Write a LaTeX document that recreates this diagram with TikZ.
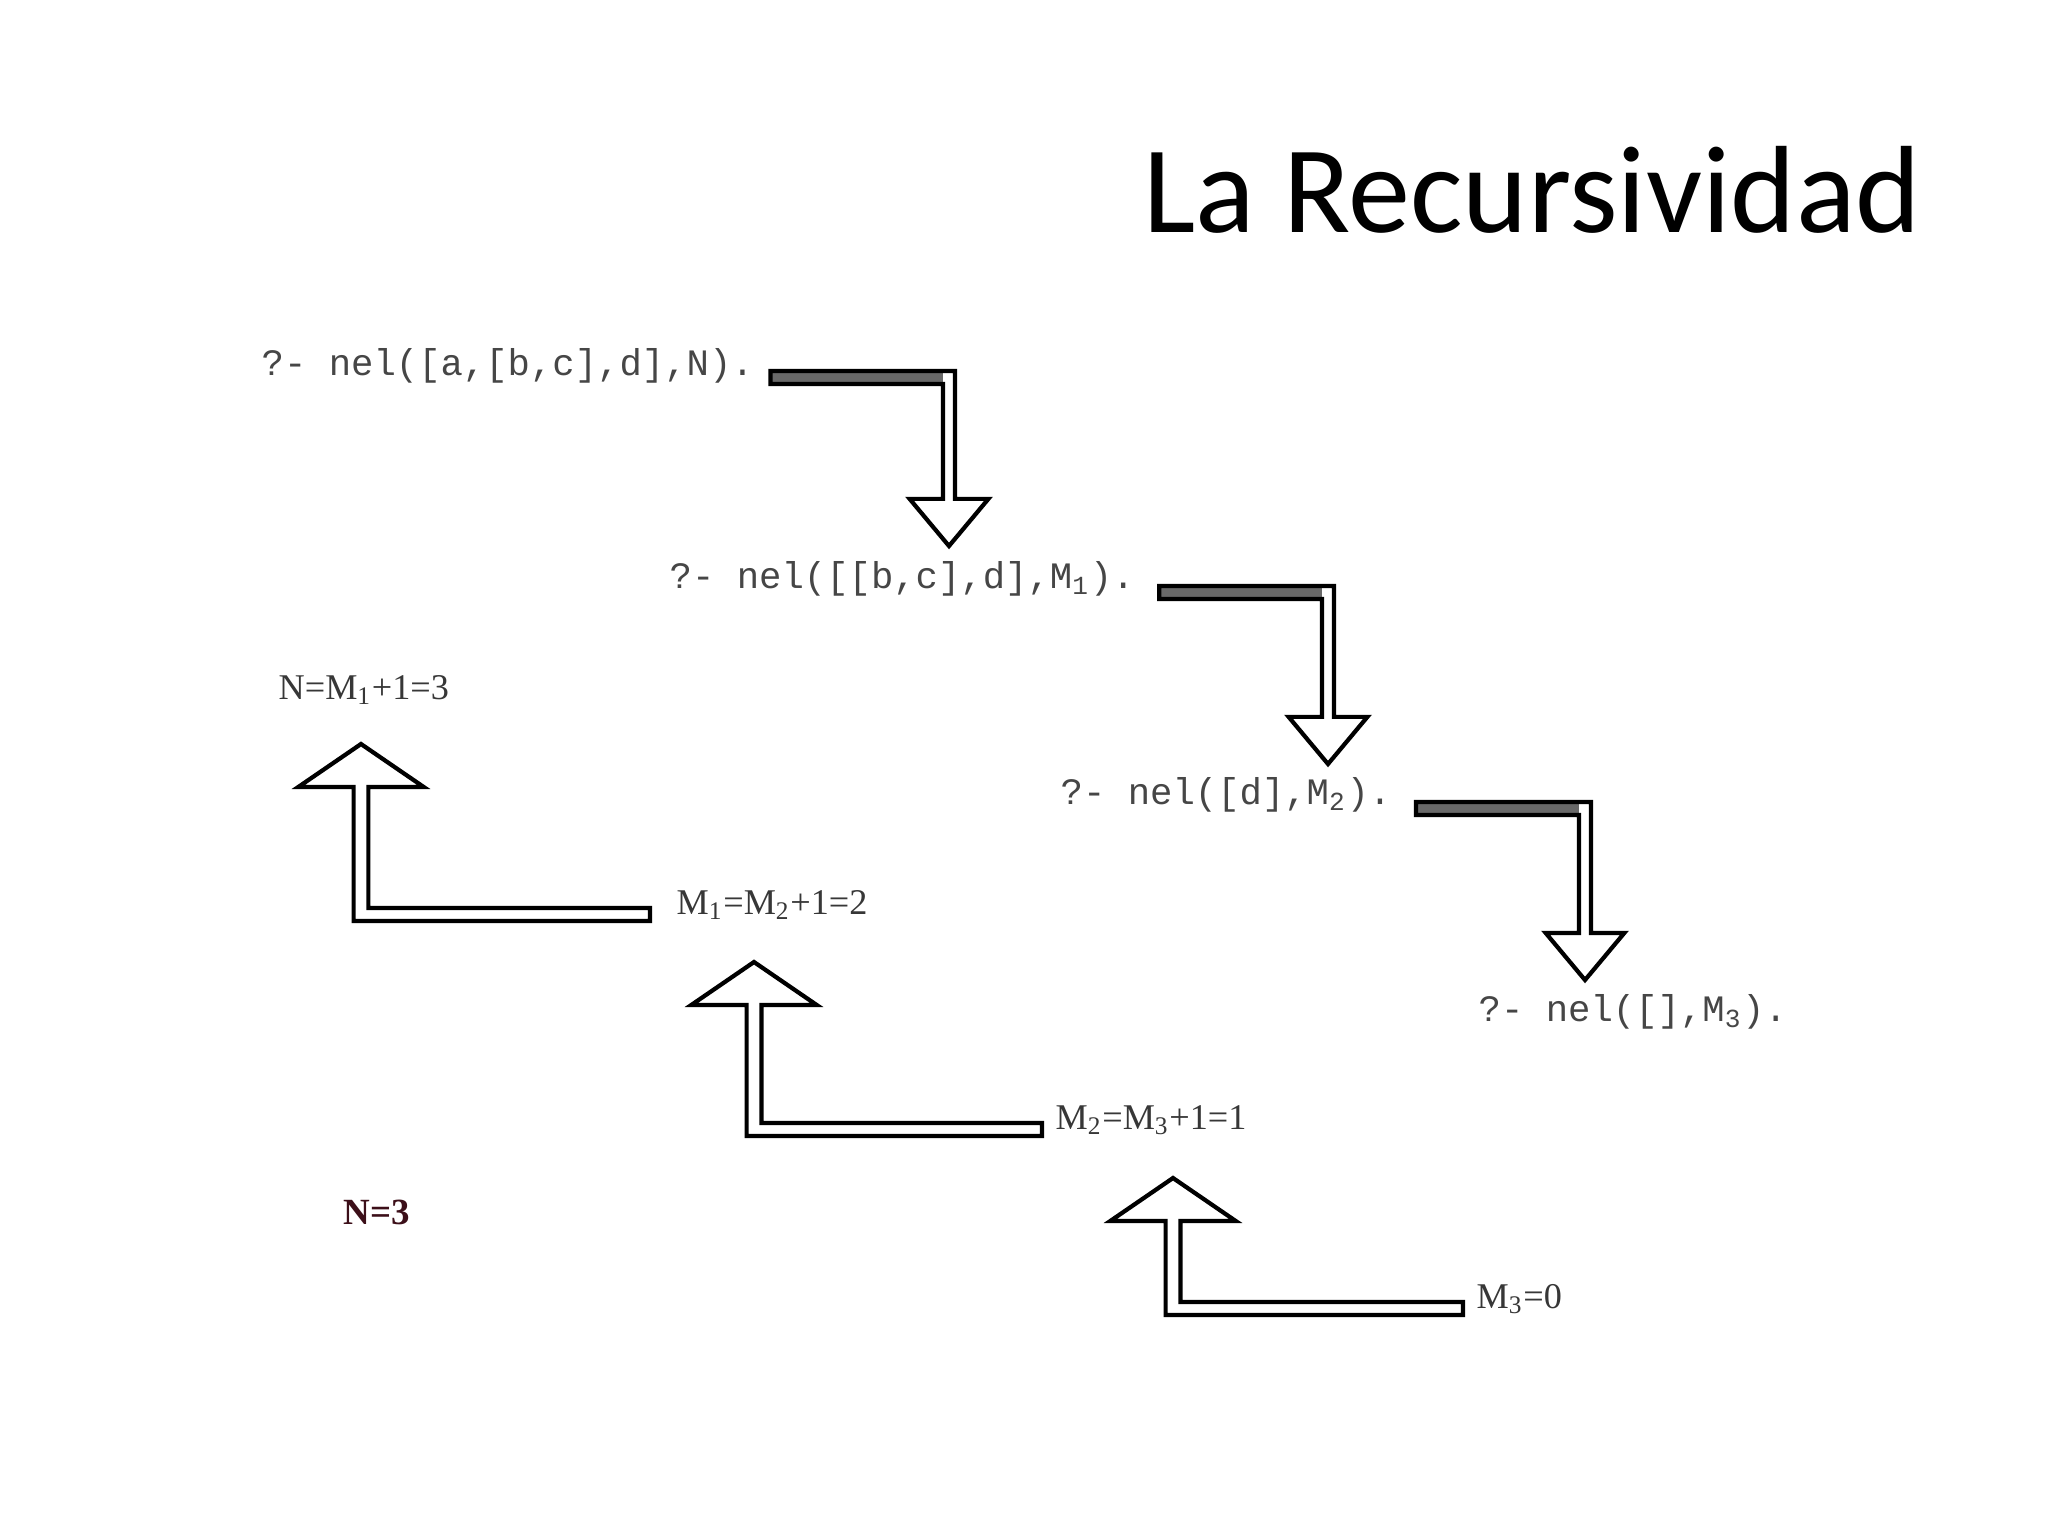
\documentclass[tikz,border=0pt]{standalone}
\usepackage{fontspec}
\setmainfont{Liberation Serif}
\newfontfamily\titlefont{Carlito}
\newfontfamily\codefont{Liberation Mono}
\usetikzlibrary{calc}
\definecolor{codegray}{RGB}{70,70,70}
\definecolor{labgray}{RGB}{55,55,55}
\definecolor{ncolor}{RGB}{60,15,25}
\definecolor{bargray}{RGB}{105,105,105}
\tikzset{
  code/.style={anchor=west, inner sep=0pt, font=\codefont\fontsize{10.6}{12}\selectfont, text=codegray},
  lab/.style={anchor=west, inner sep=0pt, font=\fontsize{10.3}{12}\selectfont, text=labgray},
  arrowline/.style={draw=black, line width=1.2pt, line join=miter},
}
% down arrow: #1 = top-left of bar, #2 = tip
\newcommand{\dnarrow}[2]{%
  \fill[white] let \p1=#1, \p2=(#2) in
    (\x1,\y1) -- ({\x2+1.7pt},\y1) -- ({\x2+1.7pt},{\y2+13.4pt}) -- ({\x2+11.2pt},{\y2+13.4pt})
    -- (\x2,\y2) -- ({\x2-11.2pt},{\y2+13.4pt}) -- ({\x2-1.7pt},{\y2+13.4pt})
    -- ({\x2-1.7pt},{\y1-3.7pt}) -- (\x1,{\y1-3.7pt}) -- cycle;
  \fill[bargray] let \p1=#1, \p2=(#2) in
    (\x1,\y1) rectangle ({\x2-1.7pt},{\y1-3.7pt});
  \draw[arrowline] let \p1=#1, \p2=(#2) in
    (\x1,\y1) -- ({\x2+1.7pt},\y1) -- ({\x2+1.7pt},{\y2+13.4pt}) -- ({\x2+11.2pt},{\y2+13.4pt})
    -- (\x2,\y2) -- ({\x2-11.2pt},{\y2+13.4pt}) -- ({\x2-1.7pt},{\y2+13.4pt})
    -- ({\x2-1.7pt},{\y1-3.7pt}) -- (\x1,{\y1-3.7pt}) -- cycle;
}
% up arrow: #1 = top-right of bar, #2 = tip
\newcommand{\uparrowshape}[2]{%
  \filldraw[arrowline, fill=white] let \p1=#1, \p2=(#2) in
    (\x1,\y1) -- ({\x2+2.1pt},\y1) -- ({\x2+2.1pt},{\y2-12.2pt}) -- ({\x2+17.8pt},{\y2-12.2pt})
    -- (\x2,\y2) -- ({\x2-17.8pt},{\y2-12.2pt}) -- ({\x2-2.1pt},{\y2-12.2pt})
    -- ({\x2-2.1pt},{\y1-3.7pt}) -- (\x1,{\y1-3.7pt}) -- cycle;
}
\begin{document}
\begin{tikzpicture}[x=0.01cm, y=-0.01cm]
\fill[white] (0,0) rectangle (2048,1536);
\useasboundingbox (0,0) rectangle (2048,1536);

\node[anchor=base west, inner sep=0pt, font=\titlefont\fontsize{35.3}{40}\selectfont] (title) at (1143,232) {La Recursividad};

\node[code] (l1) at (261,366) {?- nel([a,[b,c],d],N).};
\node[code] (l2) at (669,579) {?- nel([[b,c],d],M\textsubscript{1}).};
\node[code] (l3) at (1060,795) {?- nel([d],M\textsubscript{2}).};
\node[code] (l4) at (1478,1012) {?- nel([],M\textsubscript{3}).};

\node[lab] (m3) at (1476,1299) {M\textsubscript{3}=0};
\node[lab] (m2) at (1055,1120) {M\textsubscript{2}=M\textsubscript{3}+1=1};
\node[lab] (m1) at (676,905) {M\textsubscript{1}=M\textsubscript{2}+1=2};
\node[lab] (n) at (278,690) {N=M\textsubscript{1}+1=3};
\node[lab, font=\bfseries\fontsize{10.5}{12}\selectfont, text=ncolor] (res) at (343,1212) {N=3};

\coordinate (t1) at (949,546);
\coordinate (t2) at (1328,764);
\coordinate (t3) at (1585,980);
\coordinate (u3) at (1173,1178);
\coordinate (u2) at (754,962);
\coordinate (u1) at (361,744);

\dnarrow{($(l1.east)+(16,5)$)}{t1}
\dnarrow{($(l2.east)+(24,7)$)}{t2}
\dnarrow{($(l3.east)+(24,7)$)}{t3}

\uparrowshape{($(m3.west)+(-13,3)$)}{u3}
\uparrowshape{($(m2.west)+(-13,3)$)}{u2}
\uparrowshape{($(m1.west)+(-26,3)$)}{u1}
\end{tikzpicture}
\end{document}
